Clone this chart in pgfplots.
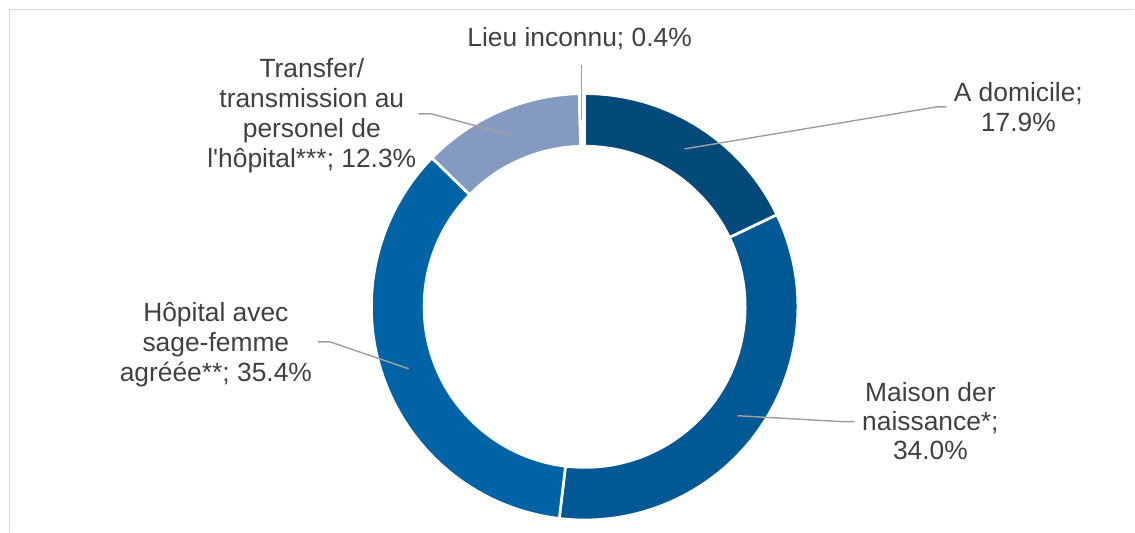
\documentclass[border=0pt]{standalone}
\usepackage{fontspec}
\setmainfont{Liberation Sans}[Ligatures=TeXOff]
\usepackage{pgfplots}
\usepackage{pgfplotstable}
\pgfplotsset{compat=1.18}

\definecolor{slice0}{RGB}{3,73,122}
\definecolor{slice1}{RGB}{0,89,148}
\definecolor{slice2}{RGB}{0,99,166}
\definecolor{slice3}{RGB}{133,154,192}
\definecolor{slice4}{RGB}{255,255,255}
\definecolor{txt}{RGB}{64,64,64}
\definecolor{leader}{RGB}{160,160,160}
\definecolor{frame}{RGB}{217,217,217}

% shares in percent, clockwise from 12 o'clock
\pgfplotstableread[col sep=comma]{
label,value
A domicile,17.9
Maison der naissance,34.0
Hopital avec sage-femme,35.4
Transfer,12.3
Lieu inconnu,0.4
}\donut

\begin{document}
\begin{tikzpicture}[lbl/.style={anchor=base, font=\fontsize{19.8}{22.5}\selectfont, text=txt, inner sep=0pt}]
\begin{axis}[
    x=0.75pt, y=0.75pt,
    xmin=0, xmax=1135,
    ymin=0, ymax=532,
    hide axis,
    clip=false,
]
\path (axis cs:0,0) rectangle (axis cs:1135,532);
\draw[frame, line width=1.1pt] (axis cs:9.5,0) -- (axis cs:9.5,522.5) -- (axis cs:1135,522.5);

% ring slices
\def\cum{0}
\pgfplotsforeachungrouped \i in {0,...,4}{
  \pgfplotstablegetelem{\i}{value}\of\donut
  \let\v=\pgfplotsretval
  \pgfmathsetmacro\aone{90-3.6*\cum}
  \pgfmathsetmacro\atwo{90-3.6*(\cum+\v)}
  \pgfmathsetmacro\cum{\cum+\v}
  \edef\temp{\noexpand\filldraw[fill=slice\i, draw=white, line width=2pt]
    ([shift={(\aone:160pt)}]axis cs:585,225)
    arc[start angle=\aone, end angle=\atwo, radius=160pt]
    -- ([shift={(\atwo:120.5pt)}]axis cs:585,225)
    arc[start angle=\atwo, end angle=\aone, radius=120.5pt] -- cycle;}
  \temp
}

% leader lines
\addplot[leader, line width=1.1pt, no marks] coordinates {(685,383) (937,425) (947,425)};
\addplot[leader, line width=1.1pt, no marks] coordinates {(738,116) (844,110) (855,110)};
\addplot[leader, line width=1.1pt, no marks] coordinates {(409,163) (330,190) (318,190)};
\addplot[leader, line width=1.1pt, no marks] coordinates {(510,397) (432,418) (419,418)};
\addplot[leader, line width=1.1pt, no marks] coordinates {(582,412) (582,467)};

% labels
\node[lbl] at (axis cs:580,485) {Lieu inconnu; 0.4\%};

\node[lbl] at (axis cs:312,454) {Transfer/};
\node[lbl] at (axis cs:312,424) {transmission au};
\node[lbl] at (axis cs:312,394) {personel de};
\node[lbl] at (axis cs:312,364) {l'hôpital***; 12.3\%};

\node[lbl] at (axis cs:1019,430) {A domicile;};
\node[lbl] at (axis cs:1019,400) {17.9\%};

\node[lbl] at (axis cs:931,130) {Maison der};
\node[lbl] at (axis cs:931,101) {naissance*;};
\node[lbl] at (axis cs:931,72) {34.0\%};

\node[lbl] at (axis cs:216,210) {Hôpital avec};
\node[lbl] at (axis cs:216,180) {sage-femme};
\node[lbl] at (axis cs:216,150) {agréée**; 35.4\%};
\end{axis}
\end{tikzpicture}
\end{document}
